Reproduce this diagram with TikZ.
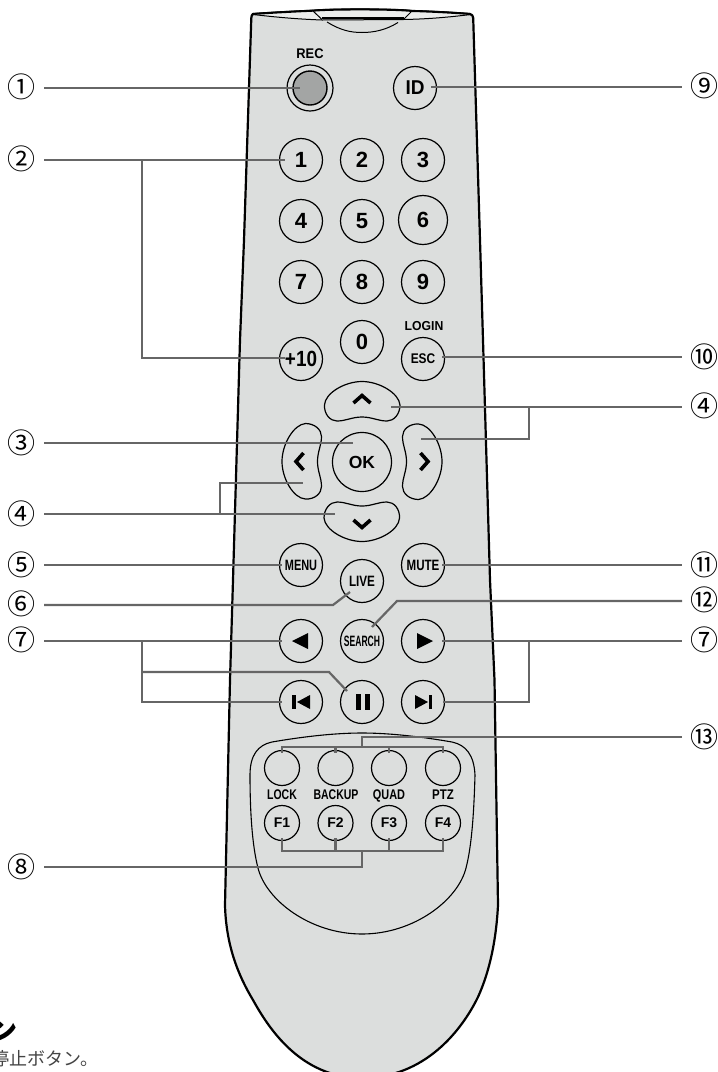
\documentclass[tikz,border=0pt]{standalone}
\usepackage{fontspec}
\usepackage{graphicx}
\setmainfont{Liberation Sans}
\newfontfamily\cjkf{Noto Sans CJK JP}
\definecolor{body}{HTML}{DCDEDD}
\definecolor{capl}{HTML}{ECEDEC}
\definecolor{recg}{HTML}{A3A5A4}
\definecolor{lead}{HTML}{666666}
\definecolor{txtg}{HTML}{444444}
\newcommand{\fs}[1]{\fontsize{#1}{#1}\selectfont\bfseries}
\newcommand{\sx}[2]{\scalebox{#1}[1]{#2}}
\newcommand{\padshape}{%
  \draw[padline] (-37.5,-56.5) .. controls (-37,-68.5) and (-17,-80) .. (0,-80)
    .. controls (17,-80) and (37,-68.5) .. (38,-56.5)
    .. controls (38,-47.5) and (32,-40.5) .. (25,-40.5)
    .. controls (16,-40.5) and (10,-44.5) .. (0,-44.5)
    .. controls (-10,-44.5) and (-16,-40.5) .. (-25,-40.5)
    .. controls (-32,-40.5) and (-38,-47.5) .. (-37.5,-56.5) -- cycle;
  \draw[chev] (-8.5,-58.5) -- (0,-66) -- (8.5,-58.5);}
\tikzset{
  x=1pt,y=-1pt,
  btn/.style={circle,draw=black,line width=1.2pt,minimum size=43pt,inner sep=0pt,font=\fs{22}},
  fbtn/.style={circle,draw=black,line width=1.2pt,minimum size=35pt,inner sep=0pt,font=\fs{14}},
  lbl/.style={inner sep=0pt,anchor=base,font=\fs{14}},
  marker/.style={inner sep=0pt,font=\cjkf\fontsize{28}{28}\selectfont},
  leader/.style={draw=lead,line width=2.2pt,line join=miter},
  padline/.style={draw=black,line width=1.2pt},
  chev/.style={draw=black,line width=3.6pt,line join=miter},
  outerline/.style={draw=black,line width=2.2pt,line join=round},
  thinline/.style={draw=black,line width=1pt},
  glyph/.style={fill=black,draw=none}
}
\begin{document}
\begin{tikzpicture}
\useasboundingbox (0,0) rectangle (718,1072);
% body
\draw[outerline,fill=body] (253,14) .. controls (275,12.5) and (295,11.5) .. (313,10.7)
  .. controls (330,9) and (395,9) .. (412,11) .. controls (430,11.5) and (450,12.5) .. (470,14)
  .. controls (472,14.5) and (473,15.5) .. (473.2,18)
  -- (480,240) -- (483,340) -- (490,580) -- (494.5,680) -- (498,905)
  .. controls (496,945) and (488,975) .. (478,997)
  .. controls (462,1030) and (425,1078) .. (362,1078)
  .. controls (300,1078) and (268,1027) .. (253,1000)
  .. controls (238,975) and (226,945) .. (225,905)
  -- (230,680) -- (233,580) -- (240,340) -- (244,240) -- (251.3,18)
  .. controls (251.5,15.5) and (252,14.5) .. (253,14) -- cycle;
% cap
\fill[capl] (253,14.5) .. controls (275,12.5) and (295,11.5) .. (313,11)
  -- (322,19.5) .. controls (295,19) and (275,17) .. (253,14.5) -- cycle;
\fill[capl] (471,14.5) .. controls (450,12.5) and (430,11.5) .. (412,11)
  -- (403.5,19.5) .. controls (430,19) and (450,17) .. (471,14.5) -- cycle;
\fill[capl] (313,11) .. controls (330,9.5) and (395,9.5) .. (412,11) -- (403.5,18) -- (322,18) -- cycle;
\draw[thinline] (253,14.5) .. controls (275,17) and (295,19) .. (322,20)
  -- (403.5,19.5) .. controls (430,19) and (450,17) .. (471,14.5);
\draw[thinline] (313,11) -- (322,19.5) (412,11) -- (403.5,19.5);
\draw[black,line width=1.4pt] (322,18) -- (403.5,18);
\draw[thinline] (327,22) .. controls (340,30) and (350,32.5) .. (362,32.5) .. controls (374,32.5) and (386,30) .. (398,22.5);
\draw[outerline,line width=2pt] (253,14) .. controls (275,12.5) and (295,11.5) .. (313,10.7)
  .. controls (330,9) and (395,9) .. (412,11) .. controls (430,11.5) and (450,12.5) .. (470,14);
% function group
\draw[thinline,line width=1.1pt] (362,733) .. controls (330,733) and (295,738) .. (272,742)
  .. controls (258,745) and (250,755) .. (250,775) .. controls (250,810) and (252,845) .. (258,868)
  .. controls (266,900) and (310,934) .. (362,934) .. controls (414,934) and (458,900) .. (466,868)
  .. controls (472,845) and (474,810) .. (475,775) .. controls (474,755) and (466,745) .. (452,742)
  .. controls (429,738) and (394,733) .. (362,733) -- cycle;
% top buttons
\node[lbl] (reclbl) at (310,58) {\sx{.92}{REC}};
\node[circle,draw=black,line width=1.2pt,minimum size=46pt,inner sep=0pt] (rec) at (310,88) {};
\node[circle,draw=black,line width=1.4pt,fill=recg,minimum size=34pt,inner sep=0pt] (recin) at (310,88) {};
\node[btn] (id) at (415,88) {\fs{20}\sx{.95}{ID}};
\node[btn] (b1) at (301,160) {1};
\node[btn] (b2) at (362,160) {2};
\node[btn] (b3) at (423,160) {3};
\node[btn] (b4) at (301,221) {4};
\node[btn] (b5) at (362,221) {5};
\node[btn,minimum size=49pt] (b6) at (423,220) {6};
\node[btn] (b7) at (301,282) {7};
\node[btn] (b8) at (362,282) {8};
\node[btn] (b9) at (423,282) {9};
\node[btn] (b0) at (362,342) {0};
\node[btn] (b10) at (301,359) {\sx{.86}{+10}};
\node[btn] (esc) at (423,359) {\fs{14}\sx{.85}{ESC}};
\node[lbl] (login) at (424,330) {\fs{13}\sx{.94}{LOGIN}};
% direction pad
\begin{scope}[shift={(362,461.5)}]
  \padshape
  \begin{scope}[rotate=90]\padshape\end{scope}
  \begin{scope}[rotate=180]\padshape\end{scope}
  \begin{scope}[rotate=270]\padshape\end{scope}
\end{scope}
\node[btn,minimum size=59pt] (ok) at (362,462) {\fs{17.5}OK};
\node[btn] (menu) at (301,565) {\fs{15}\sx{.73}{MENU}};
\node[btn] (mute) at (423,565) {\fs{15}\sx{.77}{MUTE}};
\node[btn] (live) at (362,581) {\fs{15}\sx{.78}{LIVE}};
\node[btn] (prev) at (301,641) {};
\node[btn] (search) at (362,641) {\fs{15}\sx{.57}{SEARCH}};
\node[btn] (play) at (423,641) {};
\node[btn] (skipb) at (301,702) {};
\node[btn] (pause) at (362,702) {};
\node[btn] (skipf) at (423,702) {};
\fill[glyph] (292,641) -- (308,633) -- (308,649) -- cycle;
\fill[glyph] (433,641) -- (417,633) -- (417,649) -- cycle;
\fill[glyph] (292,695) rectangle (296,709);
\fill[glyph] (297,702) -- (310,695) -- (310,709) -- cycle;
\fill[glyph] (428,702) -- (415,695) -- (415,709) -- cycle;
\fill[glyph] (428.5,695) rectangle (432,709);
\fill[glyph] (356,694) rectangle (361,710);
\fill[glyph] (365,694) rectangle (370,710);
% function buttons
\node[fbtn] (lock) at (282,768) {};
\node[fbtn] (backup) at (335.5,768) {};
\node[fbtn] (quad) at (389,768) {};
\node[fbtn] (ptz) at (443,768) {};
\node[lbl] (t1) at (282,799) {\sx{.75}{LOCK}};
\node[lbl] (t2) at (336,799) {\sx{.75}{BACKUP}};
\node[lbl] (t3) at (389,799) {\sx{.78}{QUAD}};
\node[lbl] (t4) at (443,799) {\sx{.82}{PTZ}};
\node[fbtn] (f1) at (282,823) {F1};
\node[fbtn] (f2) at (335.5,823) {F2};
\node[fbtn] (f3) at (389,823) {F3};
\node[fbtn] (f4) at (443,823) {F4};
% markers
\node[marker] (m1) at (21.5,87) {①};
\node[marker] (m2) at (22,159) {②};
\node[marker] (m3) at (22,443) {③};
\node[marker] (m4) at (22,514) {④};
\node[marker] (m5) at (22,565) {⑤};
\node[marker] (m6) at (22,604) {⑥};
\node[marker] (m7) at (22,640) {⑦};
\node[marker] (m8) at (22,867) {⑧};
\node[marker] (m9) at (704,86) {⑨};
\node[marker] (m10) at (704,357) {⑩};
\node[marker] (m4r) at (704,406) {④};
\node[marker] (m11) at (704,565) {⑪};
\node[marker] (m12) at (704,600) {⑫};
\node[marker] (m7r) at (704,640) {⑦};
\node[marker] (m13) at (704,737) {⑬};
% leader ends
\foreach \n/\xx/\yy in {s1/44/88,s2/44/160,s3/44/443,s4/44/514,s5/44/565,s6/44/605,s7/44/641,s8/44/867,
  e9/682/87,e10/682/357,e4r/682/407,e11/682/565,e12/682/601,e7r/682/641,e13/682/737,
  t1/300/88,t2/285/160,j2/142/160,k2/142/358,t10/285/358,t3/353/443,t4/335/514,j4/220/514,k4/220/483,t4b/303/483,
  t5/282/565,k6/333/605,t6/350/592,j7/142/641,t7/282/641,k7/142/702,t7b/282/702,j7m/142/672,k7m/329/672,t7m/347/691,
  t8/362/867,j8/362/851,
  t9/431/87,t10r/442/357,t4u/391/407,j4r/529/407,k4r/529/439,t4rr/421/439,t11/442/565,k12/397/601,t12/372/627,
  t7r/442/641,j7r/529/641,k7r/529/702,t7rb/443/702,t13/362/737,j13/362/747}
  {\coordinate (\n) at (\xx,\yy);}
\draw[leader] (s1) -- (t1);
\draw[leader] (s2) -- (t2);
\draw[leader] (j2) -- (k2) -- (t10);
\draw[leader] (s3) -- (t3);
\draw[leader] (s4) -- (t4);
\draw[leader] (j4) -- (k4) -- (t4b);
\draw[leader] (s5) -- (t5);
\draw[leader] (s6) -- (k6) -- (t6);
\draw[leader] (s7) -- (t7);
\draw[leader] (j7) -- (k7) -- (t7b);
\draw[leader] (j7m) -- (k7m) -- (t7m);
\draw[leader] (s8) -- (t8) -- (j8);
\draw[leader] ([yshift=3pt]f1.south) -- (f1.south |- j8) -- (f4.south |- j8) -- ([yshift=3pt]f4.south);
\draw[leader] ([yshift=3pt]f2.south) -- (f2.south |- j8);
\draw[leader] ([yshift=3pt]f3.south) -- (f3.south |- j8);
\draw[leader] (t9) -- (e9);
\draw[leader] (t10r) -- (e10);
\draw[leader] (t4u) -- (e4r);
\draw[leader] (j4r) -- (k4r) -- (t4rr);
\draw[leader] (t11) -- (e11);
\draw[leader] (t12) -- (k12) -- (e12);
\draw[leader] (t7r) -- (e7r);
\draw[leader] (j7r) -- (k7r) -- (t7rb);
\draw[leader] (e13) -- (t13) -- (j13);
\draw[leader] ([yshift=-3pt]lock.north) -- (lock.north |- j13) -- (ptz.north |- j13) -- ([yshift=-3pt]ptz.north);
\draw[leader] ([yshift=-3pt]backup.north) -- (backup.north |- j13);
\draw[leader] ([yshift=-3pt]quad.north) -- (quad.north |- j13);
% cut-off text
\node[anchor=east,inner sep=0pt,font=\cjkf\bfseries\fontsize{27}{27}\selectfont] (head) at (18,1031) {ン};
\node[anchor=east,inner sep=0pt,text=txtg,font=\cjkf\fontsize{18}{18}\selectfont] (desc) at (99,1059) {停止ボタン。};
\end{tikzpicture}
\end{document}
